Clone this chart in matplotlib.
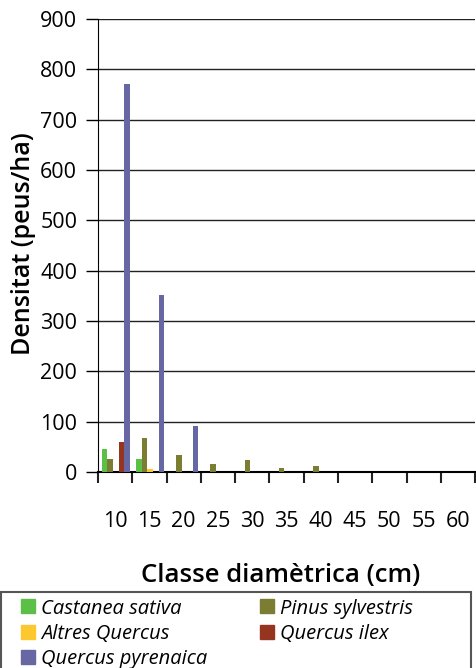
import numpy as np
import matplotlib.pyplot as plt
from matplotlib.ticker import FixedLocator
from matplotlib.lines import Line2D
from matplotlib.patches import Rectangle

classes = ['10', '15', '20', '25', '30', '35', '40', '45', '50', '55', '60']
castanea = [45, 26, 0, 0, 0, 0, 0, 0, 0, 0, 0]
pinus = [25, 68, 34, 16, 24, 7, 11, 0, 0, 0, 0]
altres = [0, 6, 0, 0, 0, 0, 0, 0, 0, 0, 0]
ilex = [59, 0, 0, 0, 0, 0, 0, 0, 0, 0, 0]
pyrenaica = [771, 352, 92, 0, 0, 0, 0, 0, 0, 0, 0]

series_names = ['Castanea sativa', 'Pinus sylvestris', 'Altres Quercus',
                'Quercus ilex', 'Quercus pyrenaica']
series_vals = [castanea, pinus, altres, ilex, pyrenaica]
colors = ['#5cbf47', '#7b7d33', '#fdc82f', '#953520', '#6768a3']

plt.rcParams['font.family'] = ['Open Sans', 'DejaVu Sans']

fig = plt.figure(figsize=(4.76, 6.68), dpi=100)
ax = fig.add_axes([0.206, 0.2934, 0.792, 0.678])

x = np.arange(len(classes))
w = 0.163
for i, (name, vals, c) in enumerate(zip(series_names, series_vals, colors)):
    ax.bar(x + (i - 2) * w + 0.02, vals, w, color=c, label=name, zorder=3)

ax.set_xlim(-0.5, len(classes) - 0.5)
ax.set_ylim(0, 900)
ax.set_yticks(np.arange(0, 901, 100))
ax.tick_params(axis='y', length=9, width=1, color='black', labelsize=15.5, pad=6)
ax.yaxis.grid(True, color='#222222', linewidth=1)
ax.set_axisbelow(True)

ax.set_xticks(x)
ax.set_xticklabels(classes)
ax.tick_params(axis='x', which='major', length=0, labelsize=15.5, pad=28)
ax.xaxis.set_minor_locator(FixedLocator(np.arange(-0.5, len(classes), 1)))
ax.tick_params(axis='x', which='minor', length=8, width=1.5, color='#222222')

for s in ['top', 'right']:
    ax.spines[s].set_visible(False)
ax.spines['left'].set_color('black')
ax.spines['bottom'].set_color('black')
ax.spines['bottom'].set_linewidth(1.5)

ax.set_ylabel('Densitat (peus/ha)', fontsize=18, fontweight='semibold')
ax.yaxis.set_label_coords(-0.165, 0.505)
ax.set_xlabel('Classe diamètrica (cm)', fontsize=18.5, fontweight='semibold')
ax.xaxis.set_label_coords(0.483, -0.2)

# legend: frame drawn by hand so it spans the full width
fig.add_artist(Rectangle((1 / 476, -0.05), 470 / 476, 0.05 + 76 / 668,
                         transform=fig.transFigure, fill=False,
                         edgecolor='#555555', linewidth=1.5))
order = [0, 2, 4, 1, 3]
handles = [Line2D([], [], linestyle='none', marker='s', markersize=9.4,
                  markerfacecolor=colors[i], markeredgecolor=colors[i])
           for i in order]
labels = [series_names[i] for i in order]
fig.legend(handles=handles, labels=labels, loc='upper left',
           bbox_to_anchor=(1 / 476, 1 - 580 / 668), ncol=2, frameon=False,
           prop={'style': 'italic', 'size': 14.5},
           handlelength=0.8, handletextpad=0.25, columnspacing=2.6,
           labelspacing=0.27, borderpad=0.92, borderaxespad=0)

fig.savefig('out.png', dpi=100)
